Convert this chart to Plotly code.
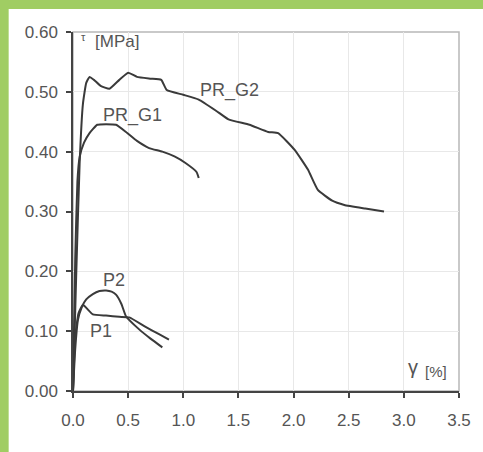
import plotly.graph_objects as go

# Data (gamma [%], tau [MPa])
pr_g2_gamma = [0.0, 0.03, 0.06, 0.09, 0.12, 0.15, 0.19, 0.25, 0.33, 0.42, 0.50, 0.58, 0.70, 0.80, 0.85, 1.00, 1.14, 1.30, 1.41, 1.60, 1.77, 1.86, 2.01, 2.13, 2.22, 2.35, 2.46, 2.65, 2.82]
pr_g2_tau = [0.0, 0.20, 0.38, 0.48, 0.515, 0.525, 0.52, 0.51, 0.505, 0.52, 0.532, 0.525, 0.522, 0.52, 0.503, 0.495, 0.487, 0.468, 0.454, 0.445, 0.433, 0.431, 0.403, 0.37, 0.336, 0.318, 0.311, 0.305, 0.30]

pr_g1_gamma = [0.0, 0.02, 0.04, 0.06, 0.10, 0.15, 0.22, 0.30, 0.39, 0.48, 0.58, 0.69, 0.81, 0.92, 1.02, 1.12, 1.14]
pr_g1_tau = [0.0, 0.22, 0.35, 0.391, 0.415, 0.431, 0.445, 0.446, 0.445, 0.433, 0.418, 0.406, 0.40, 0.392, 0.381, 0.366, 0.356]

p2_gamma = [0.0, 0.02, 0.045, 0.08, 0.12, 0.18, 0.24, 0.30, 0.35, 0.39, 0.44, 0.48, 0.60, 0.70, 0.81]
p2_tau = [0.0, 0.07, 0.119, 0.14, 0.153, 0.162, 0.167, 0.168, 0.166, 0.161, 0.145, 0.125, 0.103, 0.088, 0.073]

p1_gamma = [0.0, 0.02, 0.05, 0.09, 0.13, 0.18, 0.30, 0.42, 0.51, 0.65, 0.78, 0.87]
p1_tau = [0.0, 0.09, 0.13, 0.144, 0.137, 0.128, 0.126, 0.124, 0.123, 0.108, 0.095, 0.086]

x_ticks = [0.0, 0.5, 1.0, 1.5, 2.0, 2.5, 3.0, 3.5]
y_ticks = [0.0, 0.1, 0.2, 0.3, 0.4, 0.5, 0.6]

line_col = "#3a3a3a"
text_col = "#555555"
font_fam = "Liberation Sans, Arial, sans-serif"

fig = go.Figure()
for gx, ty in [(pr_g2_gamma, pr_g2_tau), (pr_g1_gamma, pr_g1_tau), (p2_gamma, p2_tau), (p1_gamma, p1_tau)]:
    fig.add_trace(go.Scatter(x=gx, y=ty, mode="lines", line=dict(color=line_col, width=2, shape="spline", smoothing=0.4),
                             showlegend=False, hoverinfo="skip"))

labels = [(1.42, 0.502, "PR_G2"), (0.54, 0.461, "PR_G1"), (0.37, 0.186, "P2"), (0.25, 0.101, "P1")]
for lx, ly, lt in labels:
    fig.add_annotation(x=lx, y=ly, text=lt, showarrow=False, font=dict(size=18, color=text_col, family=font_fam))

fig.add_annotation(x=0.055, y=0.592, text="τ", showarrow=False, xanchor="left",
                   font=dict(size=11, color=text_col, family=font_fam))
fig.add_annotation(x=0.185, y=0.584, text="[MPa]", showarrow=False, xanchor="left",
                   font=dict(size=17, color=text_col, family=font_fam))
fig.add_annotation(x=3.02, y=0.04, text="γ", showarrow=False, xanchor="left",
                   font=dict(size=20, color=text_col, family=font_fam))
fig.add_annotation(x=3.17, y=0.032, text="[%]", showarrow=False, xanchor="left",
                   font=dict(size=15, color=text_col, family=font_fam))

# green frame on top and left
fig.add_shape(type="rect", xref="paper", yref="paper", x0=(8 - 73) / 390, x1=1.2, y0=-0.3, y1=(391 - 9) / 359,
              fillcolor="white", line=dict(width=0), layer="below")
# light top/right border
fig.add_shape(type="rect", xref="paper", yref="paper", x0=0, x1=1, y0=0, y1=1,
              fillcolor="rgba(0,0,0,0)", line=dict(color="#b8b8b8", width=1.5), layer="below")

fig.update_xaxes(range=[0, 3.5], tickvals=x_ticks, ticktext=[f"{v:.1f}" for v in x_ticks],
                 showgrid=True, gridcolor="#e8e8e8", gridwidth=1, zeroline=False,
                 showline=True, linecolor="#444444", linewidth=1.5,
                 ticks="outside", ticklen=5, tickcolor="#444444", tickwidth=1.5,
                 tickfont=dict(size=17, color=text_col, family=font_fam), ticklabelstandoff=8)
fig.update_yaxes(range=[0, 0.6], tickvals=y_ticks, ticktext=[f"{v:.2f}" for v in y_ticks],
                 showgrid=True, gridcolor="#e8e8e8", gridwidth=1, zeroline=False,
                 showline=True, linecolor="#444444", linewidth=1.5,
                 ticks="outside", ticklen=5, tickcolor="#444444", tickwidth=1.5,
                 tickfont=dict(size=17, color=text_col, family=font_fam), ticklabelstandoff=5)

fig.update_layout(width=483, height=452, margin=dict(l=73, r=20, t=32, b=61),
                  paper_bgcolor="#a0cd63", plot_bgcolor="rgba(0,0,0,0)")

fig.write_html("out.html", config={"displayModeBar": False},
               post_script="document.body.style.margin='0';document.body.style.overflow='hidden';")
